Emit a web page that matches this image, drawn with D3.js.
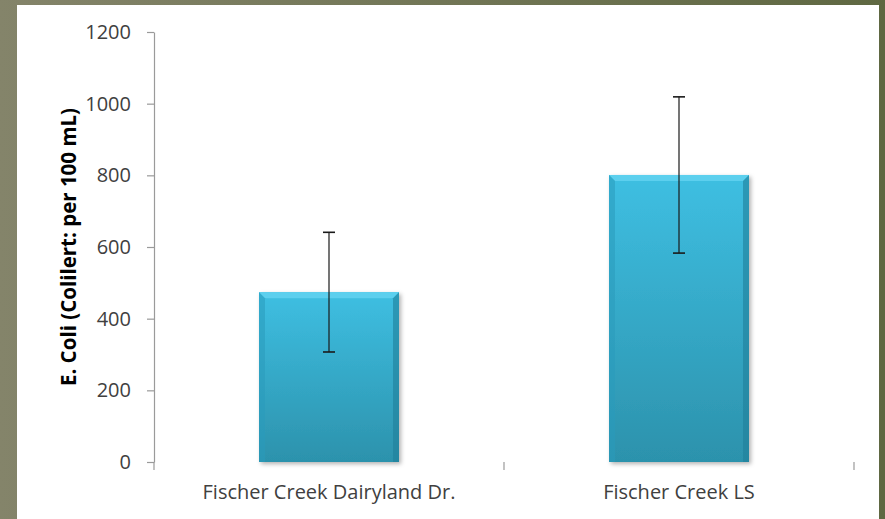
<!DOCTYPE html>
<html>
<head>
<meta charset="utf-8">
<script src="https://cdn.jsdelivr.net/npm/d3@7"></script>
<style>
  html, body { margin: 0; padding: 0; }
  body { width: 885px; height: 519px; overflow: hidden; }
  svg { display: block; }
</style>
</head>
<body>
<svg id="chart" width="885" height="519"></svg>
<script>
// Sampling sites and their mean E. coli counts with error bar half-widths
const categories = ["Fischer Creek Dairyland Dr.", "Fischer Creek LS"];
const values = [474, 801];
const errors = [167, 218];
const yTicks = [0, 200, 400, 600, 800, 1000, 1200];
const yLabel = "E. Coli (Colilert: per 100 mL)";

const W = 885, H = 519;
const margin = { left: 154, right: 31, top: 32, bottom: 57 };
const svg = d3.select("#chart");
const defs = svg.append("defs");

// Olive frame behind the white chart panel
const bg = defs.append("linearGradient").attr("id", "frame")
  .attr("x1", 0).attr("y1", 0).attr("x2", 1).attr("y2", 0);
bg.append("stop").attr("offset", "0%").attr("stop-color", "#84846a");
bg.append("stop").attr("offset", "100%").attr("stop-color", "#5f6842");
svg.append("rect").attr("width", W).attr("height", H).attr("fill", "url(#frame)");
svg.append("rect").attr("x", 17).attr("y", 5).attr("width", 862).attr("height", H - 5)
  .attr("fill", "#ffffff");

// Bar body gradient and bevel shading
const barGrad = defs.append("linearGradient").attr("id", "barFill")
  .attr("x1", 0).attr("y1", 0).attr("x2", 0).attr("y2", 1);
barGrad.append("stop").attr("offset", "0%").attr("stop-color", "#3ebfe2");
barGrad.append("stop").attr("offset", "100%").attr("stop-color", "#2c92ac");

const shadow = defs.append("filter").attr("id", "barShadow")
  .attr("x", "-10%").attr("y", "-10%").attr("width", "130%").attr("height", "130%");
shadow.append("feDropShadow").attr("dx", 2).attr("dy", 2).attr("stdDeviation", 2)
  .attr("flood-color", "#000").attr("flood-opacity", 0.3);

const gridShadow = defs.append("filter").attr("id", "lineShadow")
  .attr("x", "-5%").attr("y", "-200%").attr("width", "110%").attr("height", "500%");
gridShadow.append("feDropShadow").attr("dx", 0).attr("dy", 1.5).attr("stdDeviation", 0.8)
  .attr("flood-color", "#000").attr("flood-opacity", 0.18);

const x = d3.scaleBand().domain(categories)
  .range([margin.left, W - margin.right]).paddingInner(0.6).paddingOuter(0.3);
const y = d3.scaleLinear().domain([0, 1200]).range([H - margin.bottom, margin.top]);

const font = "'Open Sans', Lato, sans-serif";

// Horizontal gridlines
svg.append("g").selectAll("line").data(yTicks.filter(d => d > 0)).join("line")
  .attr("x1", margin.left).attr("x2", W - margin.right)
  .attr("y1", d => y(d)).attr("y2", d => y(d))
  .attr("stroke", "#9a9a9a").attr("stroke-width", 1.2)
  .attr("filter", "url(#lineShadow)");

// Y axis
const yAxis = svg.append("g").attr("transform", `translate(${margin.left},0)`)
  .call(d3.axisLeft(y).tickValues(yTicks).tickFormat(d3.format("d"))
    .tickSize(7).tickPadding(16).tickSizeOuter(0));
yAxis.select(".domain").attr("stroke", "#9a9a9a").attr("stroke-width", 1.2);
yAxis.selectAll(".tick line").attr("stroke", "#9a9a9a").attr("stroke-width", 1.2);
yAxis.selectAll(".tick text").attr("fill", "#404040")
  .style("font-family", font).style("font-size", "20px");

// X axis with boundary ticks between categories
const xBase = y(0);
const xg = svg.append("g");
xg.append("line").attr("x1", margin.left).attr("x2", W - margin.right)
  .attr("y1", xBase).attr("y2", xBase).attr("stroke", "#9a9a9a").attr("stroke-width", 1.2)
  .attr("filter", "url(#lineShadow)");
const bounds = [margin.left, margin.left + (W - margin.left - margin.right) / 2, W - margin.right];
xg.selectAll("line.b").data(bounds).join("line").attr("class", "b")
  .attr("x1", d => d).attr("x2", d => d).attr("y1", xBase).attr("y2", xBase + 8)
  .attr("stroke", "#9a9a9a").attr("stroke-width", 1.2);
xg.selectAll("text").data(categories).join("text")
  .attr("x", d => x(d) + x.bandwidth() / 2).attr("y", xBase + 37)
  .attr("text-anchor", "middle").attr("fill", "#404040")
  .style("font-family", font).style("font-size", "20px")
  .text(d => d);

// Bars with bevelled edges
const bars = svg.append("g").selectAll("g").data(categories).join("g");
bars.each(function(c, i) {
  const g = d3.select(this);
  const x0 = x(c), bw = x.bandwidth();
  const top = y(values[i]), bot = y(0);
  const b = 6;
  g.append("rect").attr("x", x0).attr("y", top).attr("width", bw).attr("height", bot - top)
    .attr("fill", "url(#barFill)").attr("filter", "url(#barShadow)");
  // top bevel
  g.append("path").attr("d", `M${x0},${top}L${x0 + bw},${top}L${x0 + bw - b},${top + b}L${x0 + b},${top + b}Z`)
    .attr("fill", "#62d2f0").attr("opacity", 0.85);
  // left bevel
  g.append("path").attr("d", `M${x0},${top}L${x0 + b},${top + b}L${x0 + b},${bot}L${x0},${bot}Z`)
    .attr("fill", "#2a9bbb").attr("opacity", 0.55);
  // right bevel
  g.append("path").attr("d", `M${x0 + bw},${top}L${x0 + bw - b},${top + b}L${x0 + bw - b},${bot}L${x0 + bw},${bot}Z`)
    .attr("fill", "#1f7f99").attr("opacity", 0.6);
});

// Error bars
const eb = svg.append("g").selectAll("g").data(categories).join("g");
eb.each(function(c, i) {
  const g = d3.select(this);
  const cx = x(c) + x.bandwidth() / 2;
  const hi = y(values[i] + errors[i]), lo = y(values[i] - errors[i]);
  g.append("line").attr("x1", cx).attr("x2", cx).attr("y1", hi).attr("y2", lo)
    .attr("stroke", "#1a1a1a").attr("stroke-width", 1.2);
  [hi, lo].forEach(v => g.append("line").attr("x1", cx - 6).attr("x2", cx + 6)
    .attr("y1", v).attr("y2", v).attr("stroke", "#1a1a1a").attr("stroke-width", 1.6));
});

// Y axis title
svg.append("text")
  .attr("transform", `translate(76,${(margin.top + H - margin.bottom) / 2}) rotate(-90)`)
  .attr("text-anchor", "middle").attr("fill", "#000")
  .style("font-family", font).style("font-weight", "bold").style("font-size", "20.5px")
  .text(yLabel);
</script>
</body>
</html>
